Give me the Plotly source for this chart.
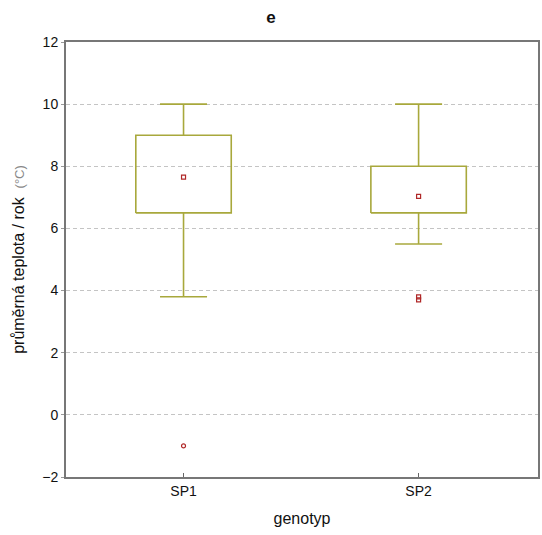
import plotly.graph_objects as go

categories = ["SP1", "SP2"]
whisker_low = [3.8, 5.5]
q1 = [6.5, 6.5]
median = [7.65, 7.03]
q3 = [9.0, 8.0]
whisker_high = [10.0, 10.0]
outlier_x = ["SP1", "SP2", "SP2"]
outlier_y = [-1.0, 3.8, 3.7]
outlier_symbol = ["circle-open", "square-open", "square-open"]

box_color = "#a8a83c"
mark_color = "#b02828"
box_half = 0.203
cap_half = 0.1

fig = go.Figure()
for i, cat in enumerate(categories):
    x0, x1 = i - box_half, i + box_half
    fig.add_trace(go.Scatter(
        x=[x0, x1, x1, x0, x0], y=[q1[i], q1[i], q3[i], q3[i], q1[i]],
        mode="lines", line=dict(color=box_color, width=1.6), showlegend=False, hoverinfo="skip"))
    fig.add_trace(go.Scatter(
        x=[i, i, None, i, i, None, i - cap_half, i + cap_half, None, i - cap_half, i + cap_half],
        y=[q3[i], whisker_high[i], None, q1[i], whisker_low[i], None,
           whisker_high[i], whisker_high[i], None, whisker_low[i], whisker_low[i]],
        mode="lines", line=dict(color=box_color, width=1.6), showlegend=False, hoverinfo="skip"))
    fig.add_trace(go.Scatter(
        x=[i], y=[median[i]], mode="markers",
        marker=dict(symbol="square-open", size=4, color=mark_color, line=dict(width=1.2, color=mark_color)),
        showlegend=False))

fig.add_trace(go.Scatter(
    x=[categories.index(c) for c in outlier_x], y=outlier_y, mode="markers",
    marker=dict(symbol=outlier_symbol, size=4, color=mark_color, line=dict(width=1.2, color=mark_color)),
    showlegend=False))

fig.update_layout(
    width=542, height=535,
    margin=dict(l=66, r=2, t=42, b=58),
    plot_bgcolor="white", paper_bgcolor="white",
    font=dict(family="Liberation Sans, Arial, sans-serif", color="#111111", size=13),
    title=dict(text="<b>e</b>", x=0.5, xref="container", xanchor="center", y=0.968, yanchor="middle",
               font=dict(size=17, color="#111111")),
    xaxis=dict(range=[-0.5, 1.508], tickvals=[0, 1], ticktext=categories,
               ticks="inside", ticklen=4, tickcolor="#666666",
               showgrid=False, zeroline=False,
               showline=True, linecolor="#777777", linewidth=2, mirror=True,
               title=dict(text="genotyp", font=dict(size=16), standoff=15),
               tickfont=dict(size=14)),
    yaxis=dict(range=[-2, 12], dtick=2, tick0=-2,
               ticks="outside", ticklen=3, tickcolor="#999999",
               showgrid=True, gridcolor="#c4c4c4", griddash="4px,3px", gridwidth=1,
               zeroline=False,
               showline=True, linecolor="#777777", linewidth=2, mirror=True,
               title=dict(text='průměrná teplota / rok  <span style="color:#888888;font-size:13px">(°C)</span>',
                          font=dict(size=16), standoff=14),
               tickfont=dict(size=14)),
)

fig.write_html("out.html")
